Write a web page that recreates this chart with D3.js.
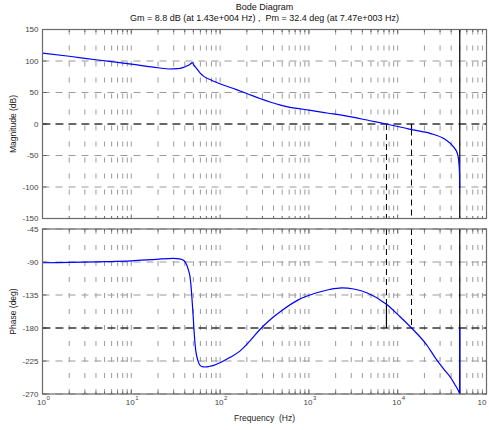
<!DOCTYPE html>
<html lang="en">
<head>
<meta charset="UTF-8">
<title>Bode Diagram</title>
<script src="https://d3js.org/d3.v7.min.js"></script>
<style>
  body { margin: 0; background: #fff; }
  svg text { font-family: "Liberation Sans", Arial, sans-serif; }
  .tick-label { font-size: 8px; fill: #444; }
  .axis-title { font-size: 8.5px; fill: #222; }
  .title { font-size: 9px; fill: #111; }
</style>
</head>
<body>
<div id="chart"></div>
<script>
// values
const magFreq = [1, 2, 4, 10, 20, 27, 33, 38, 42, 46, 48.6, 51, 54.5, 60, 65, 80, 108, 150, 200, 281, 365, 480, 612, 800, 1000, 1600, 2900, 4876, 7470, 12400, 14300, 23100, 34100, 42300, 46900, 48500, 49600, 50000];
const magDb = [112.5, 107.5, 102, 95, 89.3, 87.3, 87.8, 89.5, 92, 95, 97.3, 93, 88, 80.5, 76, 69.5, 62, 55, 48.5, 40.5, 35, 30, 26.5, 24, 22, 17.5, 11.6, 5.2, 0, -6.8, -8.8, -14.8, -24.3, -36, -46.5, -57, -75, -102];

const phaseFreq = [1, 2, 5.3, 10, 19.3, 29.7, 35, 39, 42.1, 44, 45.8, 47.3, 48.6, 49.8, 50.8, 52, 53.5, 55.5, 58.3, 62, 67.6, 75, 85, 99.7, 130, 167, 217, 281, 380, 515, 750, 1224, 1700, 2340, 3200, 4477, 7470, 10500, 14300, 21200, 27500, 33000, 38800, 44000, 48000, 50000, 50000];
const phaseDeg = [-91, -90.5, -89.6, -88.5, -86.3, -85, -85.8, -88, -94, -101, -110, -126, -146, -165, -182, -199, -213, -222, -229.5, -232.5, -233.2, -232.5, -231, -227.3, -220, -211.5, -197.6, -182, -167, -154.7, -142, -132, -127.5, -125.2, -126.8, -132, -147.6, -164, -180, -203, -223.6, -236, -246.4, -257, -265, -270, -180];

const freqTicks = [1, 10, 100, 1000, 10000, 100000];
const magTicks = [150, 100, 50, 0, -50, -100, -150];
const phaseTicks = [-45, -90, -135, -180, -225, -270];

const gainMargin = { db: 8.8, freq: 1.43e4 };
const phaseMargin = { deg: 32.4, freq: 7.47e3 };
const nyquistFreq = 5e4;

// layout
const width = 489, height = 430;
const left = 42.5, right = 486.5;
const magTop = 29.5, magBottom = 218.5;
const phTop = 229, phBottom = 394;

const svg = d3.select("#chart").append("svg")
  .attr("width", width)
  .attr("height", height);

const x = d3.scaleLog().domain([1, 1e5]).range([left, right]);
const yMag = d3.scaleLinear().domain([-150, 150]).range([magBottom, magTop]);
const yPh = d3.scaleLinear().domain([-270, -45]).range([phBottom, phTop]);

// every 1..9 x decade for the minor grid
const gridFreqs = [];
d3.range(0, 5).forEach(k => d3.range(1, 10).forEach(m => gridFreqs.push(m * Math.pow(10, k))));

function panel(y, ticks, top, bottom, id) {
  const g = svg.append("g");

  g.append("clipPath").attr("id", id)
    .append("rect").attr("x", left).attr("y", top)
    .attr("width", right - left).attr("height", bottom - top);

  // vertical grid
  g.selectAll(".vgrid").data(gridFreqs.slice(1)).enter().append("line")
    .attr("x1", d => x(d)).attr("x2", d => x(d))
    .attr("y1", top).attr("y2", bottom)
    .attr("stroke", "#9a9a9a").attr("stroke-width", 1)
    .attr("stroke-dasharray", "5,11");

  // horizontal grid
  g.selectAll(".hgrid").data(ticks).enter().append("line")
    .attr("x1", left).attr("x2", right)
    .attr("y1", d => y(d)).attr("y2", d => y(d))
    .attr("stroke", "#9a9a9a").attr("stroke-width", 1)
    .attr("stroke-dasharray", "7,6");

  // ticks inside the box
  ticks.forEach(t => {
    g.append("line").attr("x1", left).attr("x2", left + 4)
      .attr("y1", y(t)).attr("y2", y(t)).attr("stroke", "#666");
    g.append("line").attr("x1", right - 4).attr("x2", right)
      .attr("y1", y(t)).attr("y2", y(t)).attr("stroke", "#666");
  });
  gridFreqs.concat([1e5]).forEach(f => {
    const len = freqTicks.includes(f) ? 4 : 2.5;
    g.append("line").attr("x1", x(f)).attr("x2", x(f))
      .attr("y1", top).attr("y2", top + len).attr("stroke", "#666");
    g.append("line").attr("x1", x(f)).attr("x2", x(f))
      .attr("y1", bottom - len).attr("y2", bottom).attr("stroke", "#666");
  });

  // y tick labels
  g.selectAll(".ylab").data(ticks).enter().append("text")
    .attr("class", "tick-label")
    .attr("x", left - 4).attr("y", d => y(d))
    .attr("dy", "0.35em").attr("text-anchor", "end")
    .text(d => d);

  return g;
}

const gMag = panel(yMag, magTicks, magTop, magBottom, "clipMag");
const gPh = panel(yPh, phaseTicks, phTop, phBottom, "clipPh");

// margin markers, magnitude
const xGm = x(gainMargin.freq), xPm = x(phaseMargin.freq), xNy = x(nyquistFreq);
gMag.append("line").attr("x1", left).attr("x2", right)
  .attr("y1", yMag(0)).attr("y2", yMag(0))
  .attr("stroke", "#000").attr("stroke-dasharray", "8,5");
gMag.append("line").attr("x1", xPm).attr("x2", xPm)
  .attr("y1", yMag(0)).attr("y2", magBottom)
  .attr("stroke", "#000").attr("stroke-dasharray", "6,4");
gMag.append("line").attr("x1", xGm).attr("x2", xGm)
  .attr("y1", yMag(-gainMargin.db)).attr("y2", magBottom)
  .attr("stroke", "#000").attr("stroke-dasharray", "6,4");
gMag.append("line").attr("x1", xGm).attr("x2", xGm)
  .attr("y1", yMag(0)).attr("y2", yMag(-gainMargin.db))
  .attr("stroke", "#000").attr("stroke-width", 1.2);

// margin markers, phase
gPh.append("line").attr("x1", left).attr("x2", right)
  .attr("y1", yPh(-180)).attr("y2", yPh(-180))
  .attr("stroke", "#000").attr("stroke-dasharray", "8,5");
gPh.append("line").attr("x1", xGm).attr("x2", xGm)
  .attr("y1", phTop).attr("y2", yPh(-180))
  .attr("stroke", "#000").attr("stroke-dasharray", "6,4");
gPh.append("line").attr("x1", xPm).attr("x2", xPm)
  .attr("y1", phTop).attr("y2", yPh(-180 + phaseMargin.deg))
  .attr("stroke", "#000").attr("stroke-dasharray", "6,4");
gPh.append("line").attr("x1", xPm).attr("x2", xPm)
  .attr("y1", yPh(-180 + phaseMargin.deg)).attr("y2", yPh(-180))
  .attr("stroke", "#000").attr("stroke-width", 1.2);

// Nyquist frequency line
[[gMag, magTop, magBottom], [gPh, phTop, phBottom]].forEach(([g, t, b]) => {
  g.append("line").attr("x1", xNy).attr("x2", xNy)
    .attr("y1", t).attr("y2", b).attr("stroke", "#000").attr("stroke-width", 1.2);
});

// response curves
const magData = magFreq.map((f, i) => [f, magDb[i]]);
const phData = phaseFreq.map((f, i) => [f, phaseDeg[i]]);

gMag.append("path")
  .datum(magData)
  .attr("clip-path", "url(#clipMag)")
  .attr("fill", "none").attr("stroke", "#0000ff").attr("stroke-width", 1.2)
  .attr("d", d3.line().x(d => x(d[0])).y(d => yMag(d[1])).curve(d3.curveMonotoneX));

gPh.append("path")
  .datum(phData.slice(0, -1))
  .attr("clip-path", "url(#clipPh)")
  .attr("fill", "none").attr("stroke", "#0000ff").attr("stroke-width", 1.2)
  .attr("d", d3.line().x(d => x(d[0])).y(d => yPh(d[1])).curve(d3.curveMonotoneX));

// the jump back at the Nyquist frequency
gPh.append("path")
  .datum(phData.slice(-2))
  .attr("fill", "none").attr("stroke", "#0000ff").attr("stroke-width", 1.2)
  .attr("d", d3.line().x(d => x(d[0])).y(d => yPh(d[1])));

// frames on top
[[magTop, magBottom], [phTop, phBottom]].forEach(([t, b]) => {
  svg.append("rect").attr("x", left).attr("y", t)
    .attr("width", right - left).attr("height", b - t)
    .attr("fill", "none").attr("stroke", "#6a6a6a").attr("stroke-width", 1.2);
});

// x tick labels 10^k (the last one runs into the page edge, as in the original)
const xl = svg.append("g");
freqTicks.forEach((f, i) => {
  const cx = Math.min(x(f) - 1, width - 7);
  xl.append("text").attr("class", "tick-label")
    .attr("x", cx).attr("y", 405).attr("text-anchor", "middle").text("10");
  if (cx + 8 < width) {
    xl.append("text").attr("class", "tick-label").style("font-size", "6px")
      .attr("x", cx + 5).attr("y", 400).text(i);
  }
});

// titles
svg.append("text").attr("class", "title")
  .attr("x", (left + right) / 2).attr("y", 10).attr("text-anchor", "middle")
  .text("Bode Diagram");
svg.append("text").attr("class", "title")
  .attr("x", (left + right) / 2).attr("y", 21).attr("text-anchor", "middle")
  .attr("xml:space", "preserve")
  .text("Gm = 8.8 dB (at 1.43e+004 Hz) ,  Pm = 32.4 deg (at 7.47e+003 Hz)");

svg.append("text").attr("class", "axis-title")
  .attr("x", (left + right) / 2).attr("y", 421).attr("text-anchor", "middle")
  .attr("xml:space", "preserve")
  .text("Frequency  (Hz)");

svg.append("text").attr("class", "axis-title")
  .attr("transform", `translate(16,${(magTop + magBottom) / 2}) rotate(-90)`)
  .attr("text-anchor", "middle").text("Magnitude (dB)");
svg.append("text").attr("class", "axis-title")
  .attr("transform", `translate(16,${(phTop + phBottom) / 2}) rotate(-90)`)
  .attr("text-anchor", "middle").text("Phase (deg)");
</script>
</body>
</html>
